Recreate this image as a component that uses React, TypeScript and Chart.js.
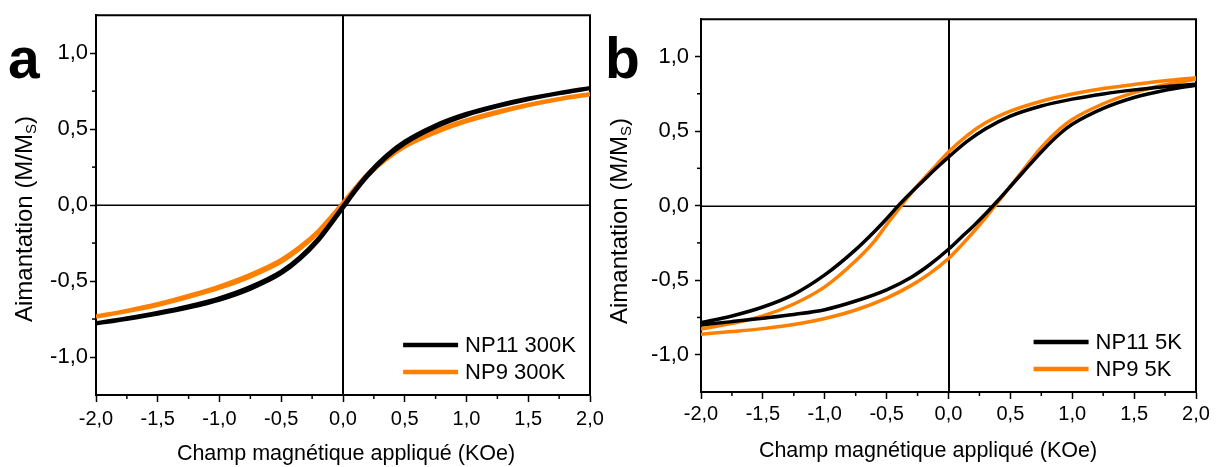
import React, { useEffect, useRef } from 'react';
import { Chart, registerables } from 'chart.js';

Chart.register(...registerables);

const FONT = '"Liberation Sans", Arial, Helvetica, sans-serif';
const BLACK = '#000000';
const ORANGE = '#ff7f00';

// ---- axes ----
const X_MAJOR = [-2, -1.5, -1, -0.5, 0, 0.5, 1, 1.5, 2];
const X_MINOR = [-1.75, -1.25, -0.75, -0.25, 0.25, 0.75, 1.25, 1.75];
const Y_MAJOR = [-1, -0.5, 0, 0.5, 1];
const Y_MINOR = [-0.75, -0.25, 0.25, 0.75];

const X_TITLE = 'Champ magnétique appliqué (KOe)';
const Y_TITLE_MAIN = 'Aimantation (M/M';
const Y_TITLE_SUB = 'S';
const Y_TITLE_END = ')';

// ---- panel a (300 K) ----
const fieldA = [-2, -1.75, -1.5, -1.25, -1, -0.75, -0.5, -0.35, -0.2, -0.1, 0, 0.1, 0.2, 0.35, 0.5, 0.75, 1, 1.25, 1.5, 1.75, 2];
const np11_300K_lower = [-0.781, -0.751, -0.717, -0.676, -0.625, -0.553, -0.451, -0.358, -0.235, -0.131, -0.021, 0.09, 0.19, 0.312, 0.404, 0.513, 0.591, 0.648, 0.695, 0.734, 0.767];
const np11_300K_upper = [-0.775, -0.743, -0.707, -0.664, -0.611, -0.537, -0.435, -0.342, -0.219, -0.115, -0.005, 0.106, 0.206, 0.328, 0.42, 0.527, 0.603, 0.658, 0.703, 0.74, 0.773];
const np9_300K_lower = [-0.737, -0.701, -0.659, -0.607, -0.547, -0.472, -0.374, -0.29, -0.184, -0.093, 0.002, 0.1, 0.192, 0.299, 0.382, 0.476, 0.549, 0.606, 0.655, 0.695, 0.727];
const np9_300K_upper = [-0.731, -0.693, -0.649, -0.595, -0.533, -0.456, -0.358, -0.274, -0.168, -0.077, 0.018, 0.116, 0.208, 0.315, 0.398, 0.49, 0.561, 0.616, 0.663, 0.701, 0.733];

// ---- panel b (5 K) ----
const fieldB_desc = [-2, -1.75, -1.5, -1.25, -1, -0.75, -0.6, -0.5, -0.4, -0.3, -0.2, -0.1, 0, 0.15, 0.3, 0.5, 0.75, 1, 1.25, 1.5, 1.75, 2];
const np11_5K_desc = [-0.785, -0.74, -0.68, -0.595, -0.465, -0.295, -0.175, -0.088, 0.005, 0.09, 0.17, 0.25, 0.325, 0.43, 0.515, 0.6, 0.668, 0.714, 0.749, 0.776, 0.797, 0.814];
const np9_5K_desc = [-0.828, -0.79, -0.74, -0.66, -0.545, -0.37, -0.24, -0.128, -0.02, 0.085, 0.18, 0.27, 0.36, 0.47, 0.555, 0.633, 0.7, 0.748, 0.785, 0.812, 0.837, 0.857];
const fieldB_asc = [-2, -1.75, -1.5, -1.25, -1, -0.75, -0.5, -0.3, -0.15, 0, 0.1, 0.2, 0.3, 0.4, 0.5, 0.6, 0.75, 0.9, 1, 1.25, 1.5, 1.75, 2];
const np11_5K_asc = [-0.8, -0.778, -0.755, -0.73, -0.698, -0.64, -0.565, -0.48, -0.395, -0.293, -0.215, -0.138, -0.055, 0.035, 0.128, 0.222, 0.36, 0.482, 0.545, 0.652, 0.725, 0.774, 0.808];
const np9_5K_asc = [-0.862, -0.845, -0.825, -0.797, -0.757, -0.7, -0.62, -0.535, -0.455, -0.355, -0.27, -0.178, -0.08, 0.025, 0.13, 0.235, 0.39, 0.515, 0.578, 0.683, 0.758, 0.81, 0.848];

const pts = (xs: number[], ys: number[]) => xs.map((x, i) => ({ x, y: ys[i] }));
const fmt = (v: any) => Number(v).toFixed(1).replace('.', ',');

function series(label: string, color: string, xs: number[], ys: number[], width: number, inLegend: boolean) {
  return {
    label,
    data: pts(xs, ys),
    borderColor: color,
    backgroundColor: color,
    borderWidth: width,
    showLine: true,
    pointRadius: 0,
    cubicInterpolationMode: 'monotone',
    fill: false,
    inLegend,
  };
}

const framePlugin = {
  id: 'frame',
  beforeDatasetsDraw(chart: any) {
    const { ctx, chartArea: a, scales } = chart;
    const x = scales.x, y = scales.y;
    const line = (x1: number, y1: number, x2: number, y2: number) => {
      ctx.beginPath(); ctx.moveTo(x1, y1); ctx.lineTo(x2, y2); ctx.stroke();
    };
    ctx.save();
    ctx.strokeStyle = '#000';
    ctx.lineWidth = 2;
    const x0 = Math.round(x.getPixelForValue(0));
    line(x0, a.top, x0, a.bottom);
    ctx.lineWidth = 1.5;
    const y0 = Math.round(y.getPixelForValue(0)) + 0.25;
    line(a.left, y0, a.right, y0);
    ctx.lineWidth = 2;
    line(a.left - 1, a.top, a.right + 1, a.top);
    line(a.right, a.top, a.right, a.bottom + 1);
    ctx.lineWidth = 1.5;
    X_MINOR.forEach((v) => {
      const px = x.getPixelForValue(v);
      line(px, a.bottom, px, a.bottom + 4);
    });
    Y_MINOR.forEach((v) => {
      const py = y.getPixelForValue(v);
      line(a.left - 4, py, a.left, py);
    });
    ctx.restore();
  },
};

const decorPlugin = {
  id: 'decor',
  afterDraw(chart: any, _args: any, o: any) {
    const ctx = chart.ctx;
    ctx.save();
    ctx.fillStyle = '#000';
    // panel letter
    ctx.font = `bold 57px ${FONT}`;
    ctx.textAlign = 'left';
    ctx.textBaseline = 'alphabetic';
    ctx.fillText(o.letter, o.letterX, o.letterY);
    // x title
    ctx.font = `21.5px ${FONT}`;
    ctx.textAlign = 'center';
    ctx.fillText(X_TITLE, o.xTitleX, o.xTitleY);
    // y title (rotated, with subscript)
    ctx.translate(o.yTitleX, o.yTitleY);
    ctx.rotate(-Math.PI / 2);
    ctx.textAlign = 'left';
    const big = `24px ${FONT}`;
    const small = `15px ${FONT}`;
    ctx.font = big;
    const w1 = ctx.measureText(Y_TITLE_MAIN).width;
    const w3 = ctx.measureText(Y_TITLE_END).width;
    ctx.font = small;
    const w2 = ctx.measureText(Y_TITLE_SUB).width;
    let px = -(w1 + w2 + w3) / 2;
    ctx.font = big;
    ctx.fillText(Y_TITLE_MAIN, px, 0);
    px += w1;
    ctx.font = small;
    ctx.fillText(Y_TITLE_SUB, px, 4);
    px += w2;
    ctx.font = big;
    ctx.fillText(Y_TITLE_END, px, 0);
    ctx.restore();
  },
};

const legendPlugin = {
  id: 'innerLegend',
  afterDatasetsDraw(chart: any) {
    const { ctx, chartArea: a } = chart;
    const items = chart.data.datasets.filter((d: any) => d.inLegend);
    ctx.save();
    ctx.font = `22px ${FONT}`;
    ctx.textBaseline = 'middle';
    ctx.textAlign = 'left';
    const maxW = Math.max(...items.map((d: any) => ctx.measureText(d.label).width));
    const textX = a.right - 14 - maxW;
    const rows = [a.bottom - 50, a.bottom - 23];
    items.forEach((d: any, i: number) => {
      const yy = rows[i];
      ctx.strokeStyle = d.borderColor;
      ctx.lineWidth = 4.5;
      ctx.beginPath();
      ctx.moveTo(textX - 62, yy);
      ctx.lineTo(textX - 7, yy);
      ctx.stroke();
      ctx.fillStyle = '#000';
      ctx.fillText(d.label, textX, yy + 1);
    });
    ctx.restore();
  },
};

type Spec = {
  datasets: any[];
  padTop: number;
  padRight: number;
  yAxisW: number;
  xAxisH: number;
  xTickPad: number;
  yTickPad: number;
  decor: any;
};

function makeConfig(p: Spec): any {
  return {
    type: 'scatter',
    data: { datasets: p.datasets },
    options: {
      responsive: false,
      animation: false,
      devicePixelRatio: 1,
      layout: { padding: { top: p.padTop, right: p.padRight, left: 0, bottom: 0 } },
      plugins: {
        legend: { display: false },
        tooltip: { enabled: false },
        decor: p.decor,
      },
      scales: {
        x: {
          type: 'linear',
          min: -2,
          max: 2,
          afterBuildTicks: (s: any) => { s.ticks = X_MAJOR.map((v) => ({ value: v })); },
          afterFit: (s: any) => { s.height = p.xAxisH; },
          ticks: { callback: fmt, color: '#000', font: { size: 20, family: FONT }, padding: p.xTickPad, maxRotation: 0, autoSkip: false },
          grid: { drawOnChartArea: false, drawTicks: true, tickLength: 7, tickWidth: 1.5, tickColor: '#000' },
          border: { display: true, color: '#000', width: 2 },
        },
        y: {
          type: 'linear',
          min: -1.25,
          max: 1.25,
          afterBuildTicks: (s: any) => { s.ticks = Y_MAJOR.map((v) => ({ value: v })); },
          afterFit: (s: any) => { s.width = p.yAxisW; },
          ticks: { callback: fmt, color: '#000', font: { size: 22, family: FONT }, padding: p.yTickPad, autoSkip: false },
          grid: { drawOnChartArea: false, drawTicks: true, tickLength: 6, tickWidth: 1.5, tickColor: '#000' },
          border: { display: true, color: '#000', width: 2 },
        },
      },
    },
    plugins: [framePlugin, legendPlugin, decorPlugin],
  };
}

const specA: Spec = {
  datasets: [
    series('NP11 300K', BLACK, fieldA, np11_300K_lower, 3.5, true),
    series('NP11 300K', BLACK, fieldA, np11_300K_upper, 3.5, false),
    series('NP9 300K', ORANGE, fieldA, np9_300K_lower, 3.5, true),
    series('NP9 300K', ORANGE, fieldA, np9_300K_upper, 3.5, false),
  ],
  padTop: 12,
  padRight: 30,
  yAxisW: 96,
  xAxisH: 72,
  xTickPad: 5,
  yTickPad: 2,
  decor: { letter: 'a', letterX: 8, letterY: 78, xTitleX: 346, xTitleY: 460, yTitleX: 31.5, yTitleY: 219 },
};

const specB: Spec = {
  datasets: [
    series('NP11 5K', BLACK, fieldB_desc, np11_5K_desc, 3.5, true),
    series('NP11 5K', BLACK, fieldB_asc, np11_5K_asc, 3.5, false),
    series('NP9 5K', ORANGE, fieldB_desc, np9_5K_desc, 3.5, true),
    series('NP9 5K', ORANGE, fieldB_asc, np9_5K_asc, 3.5, false),
  ],
  padTop: 7,
  padRight: 23,
  yAxisW: 101,
  xAxisH: 75,
  xTickPad: 3,
  yTickPad: 6,
  decor: { letter: 'b', letterX: 5, letterY: 78, xTitleX: 328, xTitleY: 456.5, yTitleX: 26.5, yTitleY: 221 },
};

function Panel({ spec, left, width }: { spec: Spec; left: number; width: number }) {
  const ref = useRef<HTMLCanvasElement>(null);
  useEffect(() => {
    const chart = new Chart(ref.current as HTMLCanvasElement, makeConfig(spec));
    return () => chart.destroy();
  }, [spec]);
  return (
    <canvas
      ref={ref}
      width={width}
      height={467}
      style={{ position: 'absolute', left, top: 0, width, height: 467, display: 'block' }}
    />
  );
}

export default function App() {
  return (
    <div style={{ position: 'absolute', left: 0, top: 0, width: 1219, height: 467, background: '#fff' }}>
      <Panel spec={specA} left={0} width={620} />
      <Panel spec={specB} left={600} width={619} />
    </div>
  );
}
